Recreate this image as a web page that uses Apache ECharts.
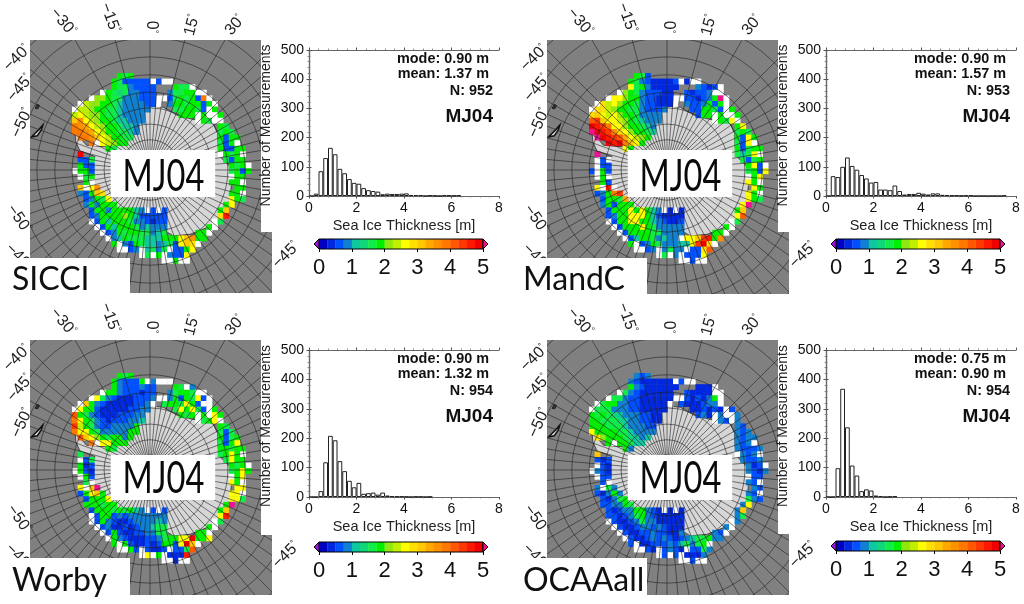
<!DOCTYPE html>
<html><head><meta charset="utf-8">
<style>html,body{margin:0;padding:0;background:#fff}#c{width:1024px;height:604px;filter:blur(0.4px)}</style>
<script src="https://cdn.jsdelivr.net/npm/echarts@6/dist/echarts.min.js"></script>
</head><body><div id="c"></div>
<script>
// ---------- DATA ----------
const panelNames = ['SICCI','MandC','Worby','OCAAall'];
const seasonLabel = 'MJ04';
const modes = ['0.90','0.90','0.90','0.75'];
const means = ['1.37','1.57','1.32','0.90'];
const counts = ['952','953','954','954'];
const binStart = Array.from({length:40},(_,i)=>(i*0.2).toFixed(1));
const histSICCI = [0,8,85,130,165,143,93,78,58,45,42,27,20,17,15,6,8,7,7,8,9,3,3,3,0,2,1,0,2,2,1,2];
const histMandC = [0,68,65,100,132,103,90,72,60,46,48,22,22,20,36,17,5,7,7,11,8,5,9,9,4,3,2,2,1,2,2,0,0,0,0,0,0,2];
const histWorby = [0,0,20,118,208,193,122,88,55,33,48,11,13,15,8,15,5,3,2,2,1,0,1,1,0,1];
const histOCAA  = [0,0,98,368,237,107,73,20,26,22,5,3,0,1,2];
const lonTicks = [[-30,63,22,-50],[-15,110,18,-70],[0,151,27,-90],[15,192,25,75],[30,235,25,50]];
const sideTicks = [[-40,17,58,45],[-45,20,88,50],[-50,22,123,65],[-50,19,219,-55],[-40,19,257,-45],[-45,286,255,45]];
const colorTicks = [0,1,2,3,4,5];
const colorStops = ['#0000c0','#0028e0','#0050ff','#1080d0','#10c8a0','#10d878','#10ec48','#00f000',
  '#90e810','#c0f000','#ffff00','#ffe000','#ffc800','#ffa800','#ff9000','#ff7800','#ff5800','#ff3800','#ff1800','#f00000'];
const overColor = '#f01090', underColor = '#a010e0';
// sea-ice cells, one row per string: a..t = 0.25 m colour classes, u = above 5 m, w = no value
const mapSICCI = ["........hgh",".......hgcccccwcww",".......hggdcccc...hggw",".....whgfgddccc..dgghhww","...wiihggdddcccwwcghghcpw",".wjiihhgeddddccw.dhhghhchw","wjjihhggeddddd....gghhgcwh","jkjiihggedddd......hhhwhwwh","mokjihhgeeddd.........whgww","ponkjihhgeed..............hg","pponkjhhgged..............ghg",".ppomkjhhgg...............hchh","...pwkjihh................gchw","......hg..................hcchh",".t........................whghw",".ccg.......................gchh",".hcc........................hghw","whhc........................ghch",".wgh........................whh","..hw........................hhw",".mwko........................hh",".dchml......................hhw","..cdhgk.....................khg","..dhdhhh...................hk","...chhdhhhhedwcwc.........hm","...cdhhhhiheccccc.........ls","...wchehhhgddcbcc........wg","....wchehhhgdeddd.......hw",".....wcdhghhggdeg.....hhw","......wdehgggeeehhhkmohh",".......hwdchgeedegckmlw","........wwcdwegdgwcchk","............wgwhwdcck","................wwhww"];
const mapMandC = ["........hgc",".......hgdcbbbbcwbww",".......kghdbbbbb...dcbcw",".....wihgdcccbb..cbccdww","...wkkihhdccbbbwwccbcdhuw",".wljkihhgdccbbbw.dccdhchw","wlljihhggdcccd....cchhgcwh","lmkjkihhgdddd......chhwhwwh","qrmkkjihgeddd.........whgkw","tsrpkkihhged..............hk","utsrolkihhge..............ghg",".utsrqnkjih...............hckh","...tstpmkh................gckw","......kh..................hcghh",".u........................gegkw",".wcw.......................gcgh",".wcc........................hkcw","cwhc........................ghck",".whw........................whk","..hc........................khw",".kwsw........................kh",".cdhpr......................khw","..chhgn.....................khg","..dhchhh...................ku","...chhhkhkhedwbwb.........hm","...cdhhkkkhecbbbb.........kq","...wchhkkhhedcbbc........wg","....wchhhkhgddddd.......hw",".....wchhhhggdddd.....hhw","......wcehhgdeddwkkmrsho",".......hwcdhgdddeekrtlw","........wwcdwdgddwcclq","............wgwdwccck","................wwcww"];
const mapWorby = ["........hgh",".......hdccchwdwww",".......hdcccdcc...hgwd",".....whhdcccbcc..dghhgww","...wkgdcbbbcccdwwdhchgkcw",".wmhdcbbbbbccdw.ghhgkhcww","wkhhcbbbbbccdd....gkhkgcwh","qhgdcbbbcccdd......hghwhwkh","pkhgdcbcccdde.........wghkw","rjhgdccddddh..............hg","pkkhgdddddhh..............gcg",".qmkihghhdh...............hcgh","...pwkkhhh................gchk","......hg..................hhghh",".g........................ghkhw",".wcg.......................gkhh",".hbc........................hghw","whcb........................ghkh",".whc........................whk","..gw........................khw",".kwmu........................kk",".chkmh......................kkw","..chhhk.....................kkg","..hhhghh...................hu","...chhhghghedwcwc.........hm","...wchhcdcddddddd.........ks","...wchdcbbcdddded........wg","....wcdbbcbcddegg.......hw",".....wchcbbccddgg.....hhw","......whdcbbbccdghhkkthhk",".......hwhcbbcbchhcktmw","........wwhcwcbbcwccgq","............wkwhwbbbs","................wwbww"];
const mapOCAA = ["........dcd",".......dcbbbbbbwcww",".......hdcbbbbbb...bbbw",".....wgdcbbbbbb..cbbbbww","...wggdccbbbbbbwwcbcbdhw",".wghhddccbbbbbw.cbbbcddw","wgggdddccbbbbb....bbcbcbwc","hghgfedddccbb......cdbwdwwd","hhgggfeddccbb.........wdcwd","hhhgggedddcc..............dc","khhhhggedddd..............dcd",".lihhhgfede...............dcdd","...hwhhgee................dcdw","......hd..................dcccd",".m........................wdcdw",".cbc.......................dccd",".wcb........................dbcw","wdcb........................dcbd",".wcc........................wcc","..cw........................dcw",".dwgd........................dc",".cbdhd......................dcw","..cbdgh.....................gdc","..ccddhg...................dk","...cbcddhhdcbwbwb.........dm","...ccbcdghdcbbbbb.........dg","...wcbbcdgddbbbbb........wd","....wcbbcddcdcbbb.......dw",".....wcbbccdccbbd.....dcw","......wcbbcdcdcbcdegghdd",".......cwbbcccdcegdghw","........wwcbwcdcbwccgd","............wcwcwbbbd","................wwcww"];
// continent outline and small islands in map-cell units
const continent = [[13.9,5.9],[16.3,6.1],[18.7,7.5],[20.8,8.1],[22.9,8.5],[25.2,9],[26,10.8],[26.1,13.2],[26.4,14.9],[28.2,16.7],[28.5,19.7],[28.2,22.7],[26.7,25.7],[24.6,27.4],[21.1,28.8],[18.1,29.1],[16.3,28],[15.8,26.5],[16.4,25.1],[13.3,24.5],[11,24.9],[8,24.2],[5.6,22.7],[4.1,20.9],[3.3,19.1],[3.5,16.7],[4.1,14.9],[1.4,13.9],[.7,12.3],[.5,10.5],[2.6,12.9],[6.2,13.2],[9.5,11.7],[11,9.3],[12.4,6.9]];
const islandA = [[-7.2,11.4],[-6,10.2],[-5.2,9.3],[-5.5,10.2],[-6.2,11.2]];
const islandB = [[-6.6,6.3],[-6.2,5.6],[-5.8,5.8],[-6.1,6.4]];
const pole = [13.93,17.32];
const parallels = [2.7,5.4,8.2,11.1,13.9,17,20.2,23.6,27.1,30.9,34.8,39,43.5,48];
const outerMeridians = [-45,-30,-15,0,15,30,45,50,55,60,65,70,75,80,85,90,95,100,105,110,115,120,125,130,135,140,145,150,155,160,165,170,175,180,185,190,195,200,205,210,215,220,225,230,235,240,245,250,255,260,265,270,275,280,285,290,295,300,305,310];
const innerMeridians = [-40,-35,-25,-20,-10,-5,5,10,20,25,35,40];

// ---------- LAYOUT ----------
const hists = [histSICCI,histMandC,histWorby,histOCAA];
const maps = [mapSICCI,mapMandC,mapWorby,mapOCAA];
const L = [
 {dx:0,  dy:0,  mapH:253, histTop:50, histH:146, histBot:232, cbTop:239, box:150, boxH:47, label:258, lx:12},
 {dx:517,dy:0,  mapH:254, histTop:50, histH:146, histBot:232, cbTop:239, box:150, boxH:47, label:258, lx:6},
 {dx:0,  dy:300,mapH:255, histTop:350,histH:147, histBot:535, cbTop:542, box:455, boxH:45, label:558, lx:12},
 {dx:517,dy:300,mapH:255, histTop:350,histH:147, histBot:534, cbTop:541, box:455, boxH:45, label:558, lx:6}
];
const CELL = 5.6;
const font = '"Liberation Sans",Arial,sans-serif';
function cellColor(ch){
  if(ch==='w')return '#ffffff';
  if(ch==='u')return overColor;
  return colorStops[ch.charCodeAt(0)-97];
}
const grids=[],xAxes=[],yAxes=[],series=[],graphics=[];
function addText(x,y,text,o){graphics.push({type:'text',x,y,rotation:(o.rot||0)*Math.PI/180,scaleX:o.sx||1,z:o.z||12,
  style:{text,fill:o.fill||'#111',font:o.font,textAlign:o.align||'center',textVerticalAlign:'middle'}});}
function addRect(x,y,w,h,z){graphics.push({type:'rect',z,shape:{x,y,width:w,height:h},style:{fill:'#fff'}});}
function addDeg(x,y,v,rot,z){graphics.push({type:'text',x,y,rotation:rot*Math.PI/180,z,
  style:{text:`{n|${String(v).replace('-','−')}}{d|°}`,textAlign:'center',textVerticalAlign:'middle',fill:'#222',
    rich:{n:{font:`16px ${font}`,fill:'#222'},d:{font:`9px ${font}`,fill:'#222',verticalAlign:'top'}}}});}

L.forEach((p,k)=>{
  // ---- map
  const g=grids.length;
  grids.push({left:30+p.dx,top:40+p.dy,width:242,height:p.mapH,show:true,backgroundColor:'#808080',borderWidth:0,z:0});
  const x0=-42/CELL,y0=-33/CELL;
  xAxes.push({gridIndex:g,type:'value',show:false,min:x0,max:x0+242/CELL});
  yAxes.push({gridIndex:g,type:'value',show:false,inverse:true,min:y0,max:y0+p.mapH/CELL});
  const xm=xAxes.length-1,ym=yAxes.length-1;
  const poly=(pts,style)=>({type:'custom',xAxisIndex:xm,yAxisIndex:ym,z:2,silent:true,clip:true,data:[[0,0]],
    renderItem:(ps,api)=>({type:'polygon',shape:{points:pts.map(q=>api.coord(q))},style})});
  series.push(poly(continent,{fill:'#d6d6d6',stroke:'#444',lineWidth:1}));
  series.push(poly(islandA,{fill:'#e8e8e8',stroke:'#111',lineWidth:1.5}));
  series.push(poly(islandB,{fill:'#333',stroke:'#222',lineWidth:1}));
  const cells=[];
  maps[k].forEach((row,r)=>{[...row].forEach((ch,c)=>{if(ch!=='.')cells.push([c,r,ch]);});});
  series.push({type:'custom',xAxisIndex:xm,yAxisIndex:ym,z:2,silent:true,clip:true,data:cells,encode:{x:0,y:1},
    renderItem:(ps,api)=>{
      const c=api.value(0),r=api.value(1);const a=api.coord([c,r]),b=api.coord([c+1,r+1]);
      return {type:'rect',shape:{x:a[0],y:a[1],width:b[0]-a[0]+.3,height:b[1]-a[1]+.3},style:{fill:cellColor(cells[ps.dataIndex][2])}};
    }});
  // graticule
  const lineStyle={stroke:'rgba(30,30,30,0.65)',lineWidth:0.9,fill:null};
  const meridianData=outerMeridians.map(m=>[m,70]).concat(innerMeridians.map(m=>[m,13.9]));
  series.push({type:'custom',xAxisIndex:xm,yAxisIndex:ym,z:2,silent:true,clip:true,data:meridianData,encode:{x:-1,y:-1},
    renderItem:(ps,api)=>{
      const m=api.value(0)*Math.PI/180,R=api.value(1);
      const a=api.coord(pole),b=api.coord([pole[0]+R*Math.sin(m),pole[1]-R*Math.cos(m)]);
      return {type:'line',shape:{x1:a[0],y1:a[1],x2:b[0],y2:b[1]},style:lineStyle};
    }});
  series.push({type:'custom',xAxisIndex:xm,yAxisIndex:ym,z:2,silent:true,clip:true,data:parallels.map(r=>[r]),encode:{x:-1,y:-1},
    renderItem:(ps,api)=>{
      const a=api.coord(pole),s=api.size([api.value(0),0]);
      return {type:'circle',shape:{cx:a[0],cy:a[1],r:s[0]},style:lineStyle};
    }});
  // overlays hiding parts of the map
  addRect(261+p.dx,p.histTop-15,16,p.histBot-p.histTop+15,5);
  addRect(0+p.dx,p.label,130,p.dy+294-p.label+2,5);
  addRect(110.7+p.dx,p.box,104.5,p.boxH,6);
  addText(163.5+p.dx,p.box+(k<2?27:24),seasonLabel,{font:`44px Lato,sans-serif`,sx:0.74,z:7,fill:'#0a0a0a'});
  addText(p.lx+p.dx,p.label+(k<2?22:23),panelNames[k],{font:`32px Lato,sans-serif`,align:'left',z:7,fill:'#111'});
  lonTicks.forEach(t=>addDeg(t[1]+p.dx,t[2]+p.dy,t[0],t[3],12));
  sideTicks.forEach((t,i)=>addDeg(t[1]+p.dx,t[2]+p.dy,t[0],t[3],i===4?3:12));

  // ---- histogram
  const h=grids.length,hx=309+p.dx,hw=190;
  grids.push({left:hx,top:p.histTop,width:hw,height:p.histH});
  const axisLine={show:true,lineStyle:{color:'#666',width:1.2}};
  const tick={show:true,length:2.5,lineStyle:{color:'#555',width:1}};
  const minor={show:true,length:1.5,splitNumber:5,lineStyle:{color:'#777',width:.8}};
  const cat=xAxes.length;
  xAxes.push({gridIndex:h,type:'category',show:false,data:binStart,boundaryGap:true,z:10});
  xAxes.push({gridIndex:h,type:'value',position:'bottom',min:0,max:8,interval:2,z:10,axisLine,axisTick:tick,minorTick:minor,splitLine:{show:false},
    axisLabel:{fontFamily:font,fontSize:14,color:'#111',margin:5,hideOverlap:false},
    name:'Sea Ice Thickness [m]',nameLocation:'middle',nameGap:22,nameTextStyle:{fontFamily:font,fontSize:14.5,color:'#222'}});
  xAxes.push({gridIndex:h,type:'value',position:'top',min:0,max:8,interval:2,z:10,axisLine,axisTick:tick,minorTick:minor,splitLine:{show:false},axisLabel:{show:false}});
  const yv=yAxes.length;
  yAxes.push({gridIndex:h,type:'value',position:'left',min:0,max:500,interval:100,z:10,axisLine,axisTick:tick,minorTick:minor,splitLine:{show:false},
    axisLabel:{fontFamily:font,fontSize:14,color:'#111',margin:5},
    name:'Number of Measurements',nameLocation:'middle',nameGap:36,nameTextStyle:{fontFamily:font,fontSize:14,color:'#222',padding:[0,5,0,0]}});
  yAxes.push({gridIndex:h,type:'value',position:'right',min:0,max:500,interval:100,z:10,axisLine,axisTick:tick,minorTick:minor,splitLine:{show:false},axisLabel:{show:false}});
  series.push({type:'bar',xAxisIndex:cat,yAxisIndex:yv,z:10,silent:true,data:hists[k],barWidth:'100%',barGap:0,
    itemStyle:{color:'#fff',borderColor:'#222',borderWidth:1}});
  const bx=489+p.dx,bx2=493+p.dx,ty=p.histTop;
  addText(bx,ty+9,`mode: ${modes[k]} m`,{font:`bold 14.4px ${font}`,align:'right'});
  addText(bx,ty+24,`mean: ${means[k]} m`,{font:`bold 14.4px ${font}`,align:'right'});
  addText(bx2,ty+41,`N: ${counts[k]}`,{font:`bold 14.4px ${font}`,align:'right'});
  addText(bx2,ty+67,seasonLabel,{font:`bold 19px ${font}`,align:'right'});

  // ---- colour bar
  const cb=grids.length;
  grids.push({left:319+p.dx,top:p.cbTop,width:164,height:10});
  const cx=xAxes.length;
  xAxes.push({gridIndex:cb,type:'value',min:0,max:5,interval:1,z:10,position:'bottom',
    axisLine:{show:false},axisTick:{show:true,length:3,lineStyle:{color:'#000',width:1}},splitLine:{show:false},
    axisLabel:{fontFamily:font,fontSize:22,color:'#111',margin:8,customValues:colorTicks}});
  const cy=yAxes.length;
  yAxes.push({gridIndex:cb,type:'value',show:false,min:0,max:1});
  series.push({type:'custom',xAxisIndex:cx,yAxisIndex:cy,z:10,silent:true,clip:false,data:colorStops.map((c,i)=>[i]),encode:{x:0,y:-1},
    renderItem:(ps,api)=>{
      const i=api.value(0),a=api.coord([i*.25,1]),b=api.coord([(i+1)*.25,0]);
      return {type:'rect',shape:{x:a[0],y:a[1],width:b[0]-a[0]+.3,height:b[1]-a[1]},style:{fill:colorStops[i]}};
    }});
  series.push({type:'custom',xAxisIndex:cx,yAxisIndex:cy,z:11,silent:true,clip:false,data:[[0]],encode:{x:0,y:-1},
    renderItem:(ps,api)=>{
      const p0=api.coord([0,1]),p1=api.coord([5,0]),w=5;
      const st=(f)=>({fill:f,stroke:'#000',lineWidth:1});
      const m=(p0[1]+p1[1])/2;
      return {type:'group',children:[
        {type:'rect',shape:{x:p0[0],y:p0[1],width:p1[0]-p0[0],height:p1[1]-p0[1]},style:{fill:null,stroke:'#000',lineWidth:1}},
        {type:'polygon',shape:{points:[[p0[0],p0[1]],[p0[0]-w,m],[p0[0],p1[1]]]},style:st(underColor)},
        {type:'polygon',shape:{points:[[p1[0],p0[1]],[p1[0]+w,m],[p1[0],p1[1]]]},style:st(overColor)}
      ]};
    }});
});

const chart=echarts.init(document.getElementById('c'),null,{renderer:'canvas'});
chart.setOption({animation:false,backgroundColor:'#fff',grid:grids,xAxis:xAxes,yAxis:yAxes,series,graphic:{elements:graphics}});
</script></body></html>
